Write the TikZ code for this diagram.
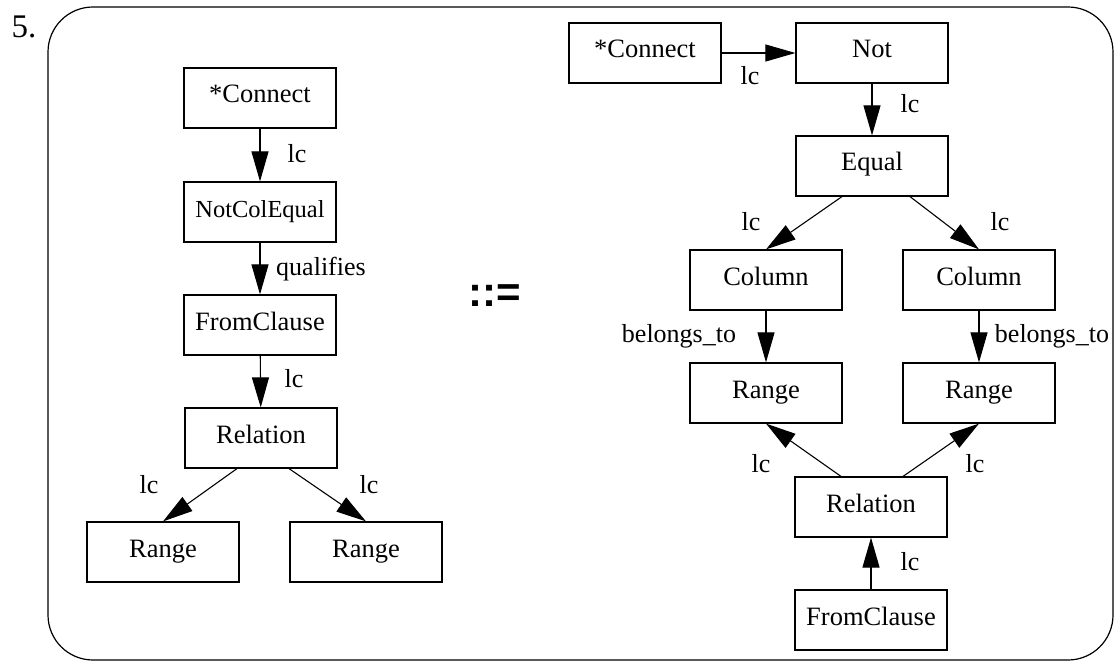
\documentclass[tikz,border=0pt]{standalone}
\usepackage{fontspec}
\setmainfont{Liberation Serif}
\newfontfamily\opfont{Liberation Sans}
\usetikzlibrary{arrows.meta,calc}
\begin{document}
\begin{tikzpicture}[x=1pt,y=-1pt,
  box/.style={draw, line width=1.2pt, minimum width=152pt, minimum height=60pt,
    inner sep=0pt, font=\fontsize{26.5}{31}\selectfont, text height=18pt, text depth=8pt},
  smallbox/.style={box, font=\fontsize{24.5}{29}\selectfont},
  link/.style={line width=1.1pt, -{Triangle[length=30pt,width=17pt]}},
  lbl/.style={anchor=base, inner sep=0pt, font=\fontsize{26}{31}\selectfont}]
\useasboundingbox (0,0) rectangle (1115,663);

% frame and rule number
\draw[line width=1.2pt, rounded corners=45pt] (48,7) rectangle (1113,660);
\node[anchor=base, inner sep=0pt, font=\fontsize{33}{40}\selectfont] (num) at (24,38) {5.};

% left-hand pattern
\node[box]      (lconn) at (260,98)  {*Connect};
\node[smallbox] (lnce)  at (260,212) {NotColEqual};
\node[box]      (lfrom) at (260,325) {FromClause};
\node[box]      (lrel)  at (261,438) {Relation};
\node[box]      (lr1)   at (163,552) {Range};
\node[box]      (lr2)   at (366,552) {Range};

\draw[link] (lconn) -- (lnce);
\draw[link] (lnce) -- (lfrom);
\draw[link] (lfrom) -- (lrel);
\draw[link] ($(lrel.south)+(-24,0)$) -- (lr1.north);
\draw[link] ($(lrel.south)+(28,0)$) -- (lr2.north);

\node[lbl] (la) at (297,163) {lc};
\node[lbl] (lb) at (321,275) {qualifies};
\node[lbl] (lc) at (294,387) {lc};
\node[lbl] (ld) at (149,493) {lc};
\node[lbl] (le) at (369,493) {lc};

% production symbol
\node[inner sep=0pt, font=\opfont\bfseries\fontsize{42}{50}\selectfont] (prod) at (495,296) {::=};

% right-hand pattern
\node[box] (rconn) at (645,53)  {*Connect};
\node[box] (rnot)  at (872,53)  {Not};
\node[box] (req)   at (872,166) {Equal};
\node[box] (rc1)   at (766,280) {Column};
\node[box] (rc2)   at (979,280) {Column};
\node[box] (rr1)   at (766,393) {Range};
\node[box] (rr2)   at (979,393) {Range};
\node[box] (rrel)  at (871,507) {Relation};
\node[box] (rfrom) at (871,620) {FromClause};

\draw[link] (rconn) -- (rnot);
\draw[link] (rnot) -- (req);
\draw[link] ($(req.south)+(-30,0)$) -- (rc1.north);
\draw[link] ($(req.south)+(38,0)$) -- (rc2.north);
\draw[link] (rc1) -- (rr1);
\draw[link] (rc2) -- (rr2);
\draw[link] ($(rrel.north)+(-30,0)$) -- (rr1.south);
\draw[link] ($(rrel.north)+(32,0)$) -- (rr2.south);
\draw[link] (rfrom) -- (rrel);

\node[lbl] (ra) at (750,85)   {lc};
\node[lbl] (rb) at (910,113)  {lc};
\node[lbl] (rc) at (751,230)  {lc};
\node[lbl] (rd) at (1000,230) {lc};
\node[lbl] (re) at (679,342)  {belongs\_to};
\node[lbl] (rf) at (1052,342) {belongs\_to};
\node[lbl] (rg) at (761,472)  {lc};
\node[lbl] (rh) at (975,472)  {lc};
\node[lbl] (ri) at (910,570)  {lc};
\end{tikzpicture}
\end{document}
